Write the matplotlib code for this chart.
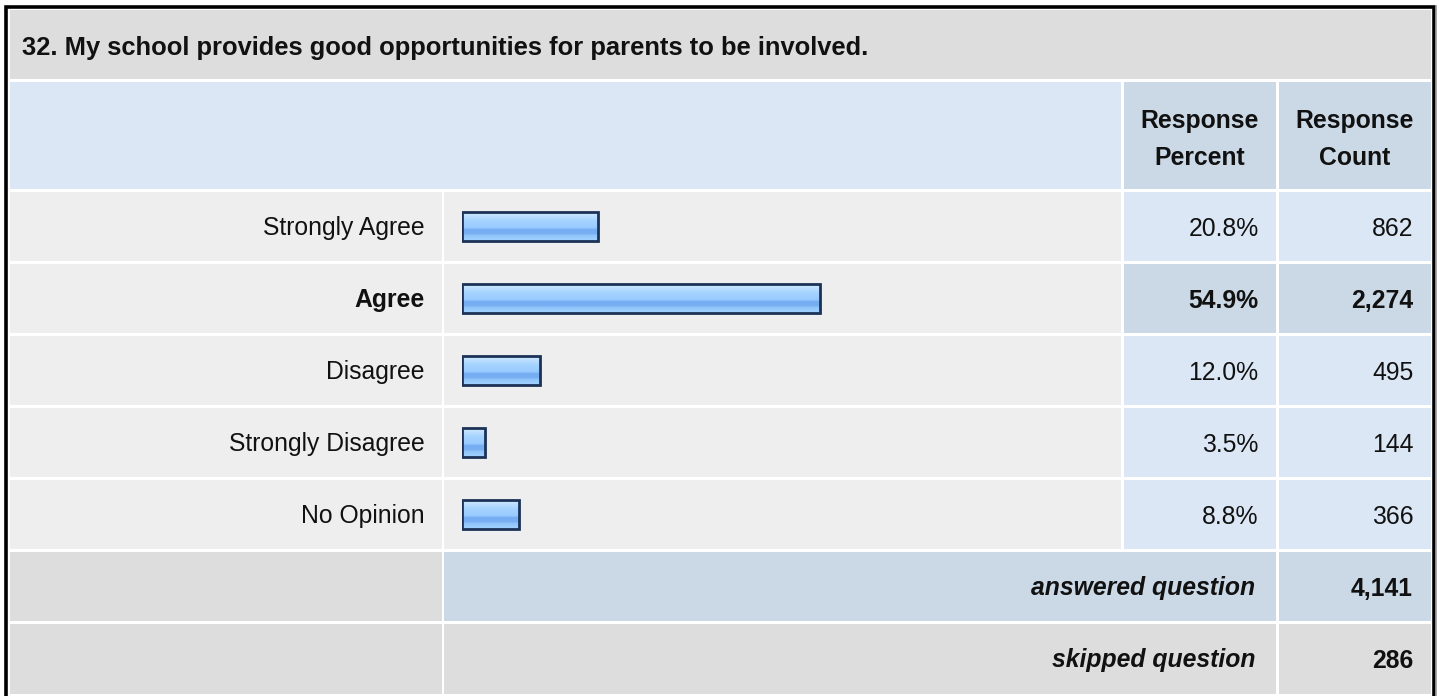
import matplotlib
matplotlib.use("Agg")
import matplotlib.pyplot as plt
from matplotlib.patches import Rectangle
from matplotlib.colors import LinearSegmentedColormap
import numpy as np

# ---------------- data ----------------
title = "32. My school provides good opportunities for parents to be involved."
categories = ["Strongly Agree", "Agree", "Disagree", "Strongly Disagree", "No Opinion"]
percents = [20.8, 54.9, 12.0, 3.5, 8.8]
counts = [862, 2274, 495, 144, 366]
answered = 4141
skipped = 286
header_percent = "Response\nPercent"
header_count = "Response\nCount"

# ---------------- style ----------------
FONT = "Liberation Sans"
FS = 17.8
FS_TITLE = 18.4
C_TITLE = "#dddddd"
C_HEAD = "#dce7f5"
C_HEAD2 = "#cbd8e6"
C_ROW = "#eeeeee"
C_VAL = "#dce7f5"
C_DARK = "#dddddd"
TXT = "#111111"

W, H = 1440, 696
fig = plt.figure(figsize=(W / 100, H / 100), dpi=100)
fig.patch.set_facecolor("white")
ax = fig.add_axes([0, 0, 1, 1])
ax.set_xlim(0, W)
ax.set_ylim(H, 0)
ax.axis("off")


def cell(x0, y0, x1, y1, color):
    ax.add_patch(Rectangle((x0, y0), x1 - x0, y1 - y0, facecolor=color,
                           edgecolor="none", zorder=1))


# column boundaries (px)
L0, L1 = 10, 442
B0, B1 = 444, 1121
P0, P1 = 1124, 1276
N0, N1 = 1279, 1431

# title row
cell(L0, 10, N1, 79, C_TITLE)
ax.text(22, 55, title, fontsize=FS_TITLE, fontweight="bold", family=FONT,
        color=TXT, ha="left", va="baseline", zorder=3)

# header row
cell(L0, 82, B1, 189, C_HEAD)
cell(P0, 82, P1, 189, C_HEAD2)
cell(N0, 82, N1, 189, C_HEAD2)
for cx, txt in [((P0 + P1) / 2, header_percent), ((N0 + N1) / 2, header_count)]:
    l1, l2 = txt.split("\n")
    ax.text(cx, 128, l1, fontsize=FS, fontweight="bold", family=FONT,
            color=TXT, ha="center", va="baseline", zorder=3)
    ax.text(cx, 165, l2, fontsize=FS, fontweight="bold", family=FONT,
            color=TXT, ha="center", va="baseline", zorder=3)

# data rows
ROW0, PITCH, RH = 192, 72, 69
top_idx = int(np.argmax(percents))
for i, (cat, p, c) in enumerate(zip(categories, percents, counts)):
    y0 = ROW0 + PITCH * i
    y1 = y0 + RH
    bold = (i == top_idx)
    cell(L0, y0, L1, y1, C_ROW)
    cell(B0, y0, B1, y1, C_ROW)
    vcol = C_HEAD2 if bold else C_VAL
    cell(P0, y0, P1, y1, vcol)
    cell(N0, y0, N1, y1, vcol)
    fw = "bold" if bold else "normal"
    base = y0 + 43.5
    ax.text(424.5, base, cat, fontsize=FS, fontweight=fw, family=FONT,
            color=TXT, ha="right", va="baseline", zorder=3)
    ax.text(1258.5, base, f"{p:.1f}%", fontsize=FS, fontweight=fw, family=FONT,
            color=TXT, ha="right", va="baseline", zorder=3)
    ax.text(1413.5, base, f"{c:,}", fontsize=FS, fontweight=fw, family=FONT,
            color=TXT, ha="right", va="baseline", zorder=3)

# answered row
y0 = ROW0 + PITCH * 5
cell(L0, y0, L1, y0 + RH, C_DARK)
cell(B0, y0, P1, y0 + RH, C_HEAD2)
cell(N0, y0, N1, y0 + RH, C_HEAD2)
ax.text(1255, y0 + 43.5, "answered question", fontsize=FS, fontweight="bold",
        style="italic", family=FONT, color=TXT, ha="right", va="baseline", zorder=3)
ax.text(1413, y0 + 43.5, f"{answered:,}", fontsize=FS, fontweight="bold",
        family=FONT, color=TXT, ha="right", va="baseline", zorder=3)

# skipped row
y0 = ROW0 + PITCH * 6
cell(L0, y0, L1, y0 + RH + 1, C_DARK)
cell(B0, y0, P1, y0 + RH + 1, C_DARK)
cell(N0, y0, N1, y0 + RH + 1, C_DARK)
ax.text(1255, y0 + 43.5, "skipped question", fontsize=FS, fontweight="bold",
        style="italic", family=FONT, color=TXT, ha="right", va="baseline", zorder=3)
ax.text(1413, y0 + 43.5, f"{skipped:,}", fontsize=FS, fontweight="bold",
        family=FONT, color=TXT, ha="right", va="baseline", zorder=3)

# outer frame (left, top, right; bottom is cut off in the reference)
ax.plot([5.5, 5.5, 1434, 1434], [H + 5, 6.5, 6.5, H + 5], color="black",
        lw=2.6, solid_joinstyle="miter", zorder=5)
ax.plot([1436.3, 1436.3], [6, H + 5], color="#9a9a9a", lw=1.2, zorder=5)

# ---------------- bars (own axes: x in percent) ----------------
BX0, BX1 = 462, 1114      # px span of 0..100 %
BY0, BY1 = 190.5, 550.5   # px span of 5 rows
axb = fig.add_axes([BX0 / W, 1 - BY1 / H, (BX1 - BX0) / W, (BY1 - BY0) / H])
axb.set_xlim(0, 100)
axb.set_ylim(len(categories) - 0.5, -0.5)
axb.axis("off")
axb.patch.set_alpha(0)

grad = LinearSegmentedColormap.from_list("bar", [
    (0.00, "#d6ecff"), (0.12, "#bfe0ff"), (0.30, "#a6d3ff"),
    (0.55, "#98caff"), (0.60, "#76aef2"), (0.76, "#76aef2"),
    (0.80, "#8ec4fb"), (1.00, "#a2d2ff")])
gimg = np.linspace(0, 1, 64).reshape(-1, 1)

bars = axb.barh(range(len(categories)), percents, height=0.4,
                facecolor="none", edgecolor="#1c3357", linewidth=2.0, zorder=4)
for b in bars:
    x, y = b.get_x(), b.get_y()
    w, h = b.get_width(), b.get_height()
    im = axb.imshow(gimg, cmap=grad, aspect="auto", interpolation="bilinear",
                    extent=(x, x + w, y + h, y), zorder=3)
    im.set_clip_path(b)
axb.set_xlim(0, 100)
axb.set_ylim(len(categories) - 0.5, -0.5)

fig.savefig("out.png", dpi=100, facecolor="white")
